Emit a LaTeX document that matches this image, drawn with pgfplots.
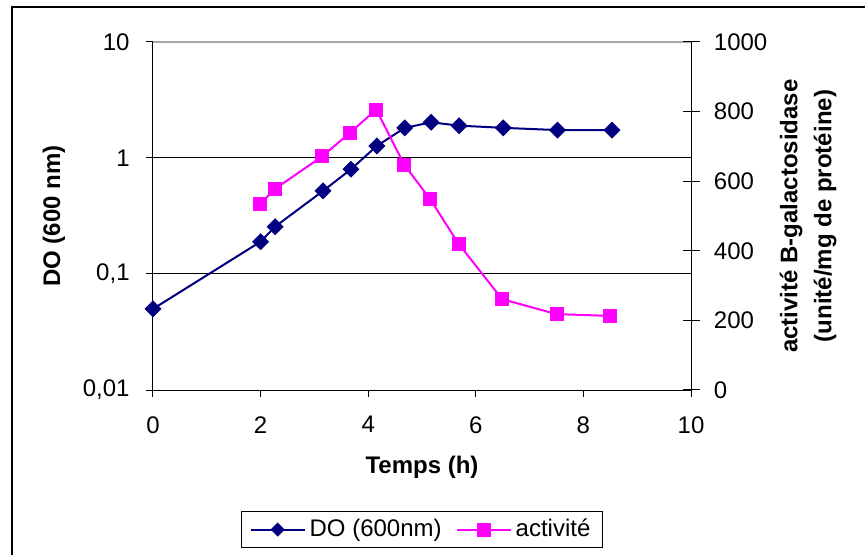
\documentclass[border=0pt]{standalone}
\usepackage{pgfplots}
\pgfplotsset{compat=1.18}
\usepackage{fontspec}
\setmainfont{Liberation Sans}
\definecolor{navyDO}{RGB}{0,0,128}
\definecolor{magact}{RGB}{255,0,255}
\begin{document}
\fontsize{12}{14.4}\selectfont
\begin{tikzpicture}
\useasboundingbox (-76.5pt,-82.5pt) rectangle (356pt,195pt);
\draw[line width=0.6pt] (-70.5pt,-95pt) -- (-70.5pt,191.5pt) -- (370pt,191.5pt);
\begin{axis}[
  at={(0,0)}, anchor=south west, scale only axis,
  width=269pt, height=174pt,
  xmin=0, xmax=10, ymode=log, ymin=0.01, ymax=10,
  axis x line*=bottom, axis y line*=left,
  axis line style={-, line width=0.5pt, black},
  xtick={0,2,4,6,8,10},
  ytick={0.01,0.1,1,10}, yticklabels={{0,01},{0,1},1,10},
  xminorticks=false, yminorticks=false,
  tick align=outside, major tick length=3.5pt,
  tick style={black, line width=0.5pt},
  ymajorgrids=true, major grid style={black, line width=0.5pt},
  /pgf/number format/assume math mode=true,
  tick label style={font=\fontsize{12}{14.4}\selectfont},
  xticklabel style={yshift=-5.5pt},
  yticklabel style={xshift=-4pt},
  xlabel={Temps (h)}, ylabel={DO (600 nm)},
  label style={font=\bfseries\fontsize{12}{14.4}\selectfont},
  xlabel style={at={(axis description cs:0.5,-0.221)}, anchor=center},
  ylabel style={at={(axis description cs:-0.184,0.5)}, anchor=center},
]
\draw[gray!70, line width=0.6pt] (rel axis cs:0,1) -- (rel axis cs:1,1);
\addplot[navyDO, line width=1pt, mark=square*, mark size=2.5pt, mark options={rotate=45, solid, fill=navyDO}]
coordinates {(0,0.05) (2.0,0.19) (2.27,0.256) (3.16,0.52) (3.68,0.80) (4.16,1.27) (4.68,1.82) (5.17,2.03) (5.69,1.90) (6.51,1.82) (7.52,1.74) (8.53,1.74)};
\end{axis}
\begin{axis}[
  at={(0,0)}, anchor=south west, scale only axis,
  width=269pt, height=174pt,
  xmin=0, xmax=10, ymin=0, ymax=1000,
  axis y line*=right, axis x line=none,
  axis line style={-, line width=0.5pt, black},
  ytick={0,200,400,600,800,1000},
  tick align=center, major tick length=8.5pt,
  tick style={black, line width=0.5pt},
  /pgf/number format/1000 sep={},
  /pgf/number format/assume math mode=true,
  tick label style={font=\fontsize{12}{14.4}\selectfont},
  yticklabel style={xshift=3pt},
  ylabel={activité B-galactosidase\\(unité/mg de protéine)},
  ylabel style={at={(axis description cs:1.2175,0.5)}, anchor=center, align=center,
    font=\bfseries\fontsize{12}{17}\selectfont},
  legend columns=2,
  legend style={at={(0.5,-0.401)}, anchor=center, draw=black, line width=0.5pt,
    font=\fontsize{12}{14.4}\selectfont, inner xsep=4pt, inner ysep=1.5pt,
    /tikz/every even column/.append style={column sep=5pt}},
  legend image code/.code={\draw[mark repeat=2,mark phase=2,#1] plot coordinates {(0pt,0pt) (13.5pt,0pt) (27pt,0pt)};},
]
\addlegendimage{navyDO, line width=1pt, mark=square*, mark size=2pt, mark options={rotate=45, solid, fill=navyDO}}
\addlegendentry{DO (600nm)}
\addplot[magact, line width=1pt, mark=square*, mark size=3pt, mark options={solid, fill=magact}]
coordinates {(1.99,534) (2.26,577) (3.15,672) (3.66,739) (4.15,806) (4.67,647) (5.15,549) (5.68,420) (6.49,261) (7.50,218) (8.49,213)};
\addlegendentry{activité}
\end{axis}
\end{tikzpicture}
\end{document}
